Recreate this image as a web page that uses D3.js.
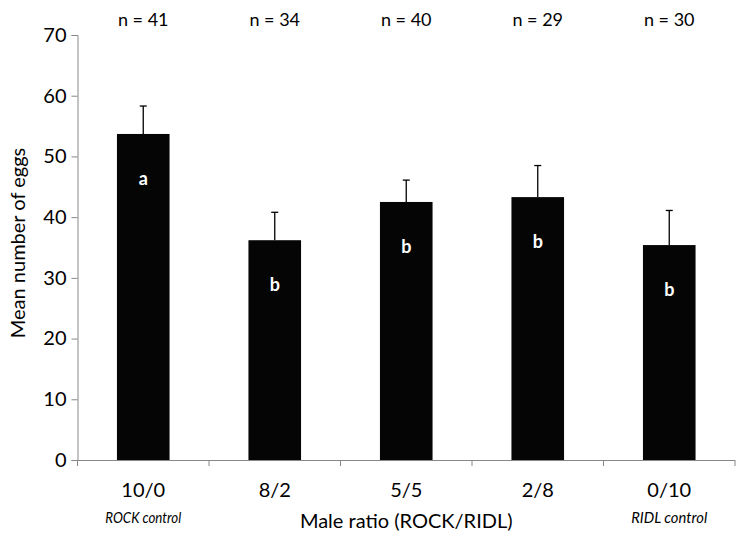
<!DOCTYPE html>
<html><head><meta charset="utf-8">
<script src="https://cdn.jsdelivr.net/npm/d3@7"></script>
<style>body{margin:0;background:#fff;} svg{display:block;font-family:Lato,"Open Sans",sans-serif;}</style>
</head><body><svg id="c" width="743" height="538"></svg>
<script>
const categories = ["10/0","8/2","5/5","2/8","0/10"];
const subLabels = ["ROCK control","","","","RIDL control"];
const means = [53.7, 36.2, 42.5, 43.3, 35.4];
const errors = [4.6, 4.6, 3.6, 5.2, 5.7];
const letters = ["a","b","b","b","b"];
const nLabels = ["n = 41","n = 34","n = 40","n = 29","n = 30"];
const yTicks = [0,10,20,30,40,50,60,70];

const svg = d3.select("#c");
const x = d3.scaleBand().domain(categories).range([77.5, 735]).paddingInner(0.6).paddingOuter(0.3);
const xb = d3.scaleBand().domain(categories).range([77.5, 735]);
const y = d3.scaleLinear().domain([0,70]).range([460, 35]);

// y axis
const ya = svg.append("g").attr("transform","translate(77.5,0)")
  .call(d3.axisLeft(y).tickValues(yTicks).tickSize(6).tickPadding(5).tickFormat(d3.format("d")));
ya.select(".domain").attr("stroke","#888");
ya.selectAll(".tick line").attr("stroke","#888");
ya.selectAll("text").attr("font-size",20).attr("fill","#000").attr("font-family","Lato,sans-serif");

// x axis line with boundary ticks
const xg = svg.append("g");
xg.append("line").attr("x1",77.5).attr("x2",735).attr("y1",y(0)+0.5).attr("y2",y(0)+0.5).attr("stroke","#888");
const bounds = categories.map(c=>xb(c)).concat([xb(categories[categories.length-1])+xb.bandwidth()]);
xg.selectAll("line.t").data(bounds).join("line").attr("class","t")
  .attr("x1",d=>d).attr("x2",d=>d).attr("y1",y(0)).attr("y2",y(0)+6).attr("stroke","#888");

// bars
svg.selectAll("rect.bar").data(categories).join("rect").attr("class","bar")
  .attr("x",(d)=>x(d)).attr("width",x.bandwidth())
  .attr("y",(d,i)=>y(means[i])).attr("height",(d,i)=>y(0)-y(means[i]))
  .attr("fill","#050505");

// error bars
const cx = d => x(d)+x.bandwidth()/2;
svg.selectAll("line.err").data(categories).join("line").attr("class","err")
  .attr("x1",cx).attr("x2",cx).attr("y1",(d,i)=>y(means[i])).attr("y2",(d,i)=>y(means[i]+errors[i]))
  .attr("stroke","#000").attr("stroke-width",1.3);
svg.selectAll("line.cap").data(categories).join("line").attr("class","cap")
  .attr("x1",d=>cx(d)-3.5).attr("x2",d=>cx(d)+3.5).attr("y1",(d,i)=>y(means[i]+errors[i])).attr("y2",(d,i)=>y(means[i]+errors[i]))
  .attr("stroke","#000").attr("stroke-width",1.3);

// letters
svg.selectAll("text.let").data(categories).join("text").attr("class","let")
  .attr("x",cx).attr("y",(d,i)=>y(means[i])+51)
  .attr("text-anchor","middle").attr("fill","#fff").attr("font-weight","bold").attr("font-size",18)
  .text((d,i)=>letters[i]);

// n labels
svg.selectAll("text.n").data(categories).join("text").attr("class","n")
  .attr("x",cx).attr("y",26).attr("text-anchor","middle").attr("font-size",18).attr("fill","#000")
  .text((d,i)=>nLabels[i]);

// category labels
svg.selectAll("text.cat").data(categories).join("text").attr("class","cat")
  .attr("x",cx).attr("y",497).attr("text-anchor","middle").attr("font-size",20).attr("fill","#000")
  .text(d=>d);
svg.selectAll("text.sub").data(categories.filter((d,i)=>subLabels[i])).join("text").attr("class","sub")
  .attr("x",cx).attr("y",523).attr("text-anchor","middle").attr("font-size",16).attr("font-style","italic").attr("fill","#000")
  .attr("textLength",76).attr("lengthAdjust","spacingAndGlyphs")
  .text(d=>subLabels[categories.indexOf(d)]);

// axis titles
svg.append("text").attr("x",(77.5+735)/2).attr("y",528).attr("text-anchor","middle").attr("font-size",20).attr("fill","#000")
  .text("Male ratio (ROCK/RIDL)");
svg.append("text").attr("transform","translate(25,243) rotate(-90)").attr("text-anchor","middle").attr("font-size",20).attr("fill","#000")
  .text("Mean number of eggs");
</script></body></html>
